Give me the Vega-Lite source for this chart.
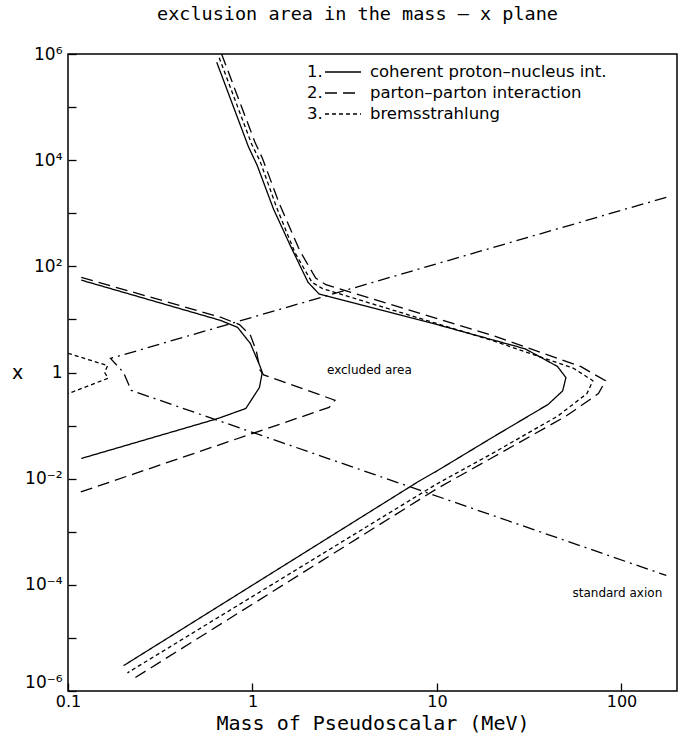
{
  "$schema": "https://vega.github.io/schema/vega-lite/v6.json",
  "width": 609,
  "height": 637,
  "autosize": {"type": "none"},
  "padding": {"left": 68, "top": 54, "right": 12, "bottom": 45},
  "background": "white",
  "title": {
    "text": "exclusion area in the mass – x plane",
    "font": "DejaVu Sans Mono",
    "fontSize": 18.5,
    "fontWeight": "normal",
    "color": "black",
    "offset": 22,
    "dx": -15
  },
  "config": {
    "view": {"stroke": "black", "strokeWidth": 1.5},
    "font": "DejaVu Sans"
  },
  "datasets": {
    "curves": [
      {"curve": "1", "seg": "1a", "o": 1, "m": 0.64, "v": 700000},
      {"curve": "1", "seg": "1a", "o": 2, "m": 0.95, "v": 18000},
      {"curve": "1", "seg": "1a", "o": 3, "m": 1.06, "v": 8000},
      {"curve": "1", "seg": "1a", "o": 4, "m": 1.3, "v": 1200},
      {"curve": "1", "seg": "1a", "o": 5, "m": 1.6, "v": 250},
      {"curve": "1", "seg": "1a", "o": 6, "m": 2.0, "v": 50},
      {"curve": "1", "seg": "1a", "o": 7, "m": 2.3, "v": 30},
      {"curve": "1", "seg": "1a", "o": 8, "m": 10, "v": 8},
      {"curve": "1", "seg": "1a", "o": 9, "m": 30, "v": 2.8},
      {"curve": "1", "seg": "1a", "o": 10, "m": 45, "v": 1.3},
      {"curve": "1", "seg": "1a", "o": 11, "m": 50, "v": 0.8},
      {"curve": "1", "seg": "1a", "o": 12, "m": 48, "v": 0.45},
      {"curve": "1", "seg": "1a", "o": 13, "m": 40, "v": 0.25},
      {"curve": "1", "seg": "1a", "o": 14, "m": 20, "v": 0.06},
      {"curve": "1", "seg": "1a", "o": 15, "m": 10, "v": 0.014},
      {"curve": "1", "seg": "1a", "o": 16, "m": 8, "v": 0.009},
      {"curve": "1", "seg": "1a", "o": 17, "m": 0.2, "v": 0.000003},

      {"curve": "1", "seg": "1b", "o": 1, "m": 0.118, "v": 55},
      {"curve": "1", "seg": "1b", "o": 2, "m": 0.67, "v": 9.6},
      {"curve": "1", "seg": "1b", "o": 3, "m": 0.83, "v": 7.1},
      {"curve": "1", "seg": "1b", "o": 4, "m": 0.975, "v": 3.5},
      {"curve": "1", "seg": "1b", "o": 5, "m": 1.1, "v": 1.3},
      {"curve": "1", "seg": "1b", "o": 6, "m": 1.13, "v": 1.0},
      {"curve": "1", "seg": "1b", "o": 7, "m": 1.09, "v": 0.52},
      {"curve": "1", "seg": "1b", "o": 8, "m": 0.92, "v": 0.21},
      {"curve": "1", "seg": "1b", "o": 9, "m": 0.65, "v": 0.136},
      {"curve": "1", "seg": "1b", "o": 10, "m": 0.118, "v": 0.024},

      {"curve": "2", "seg": "2a", "o": 1, "m": 0.68, "v": 1000000},
      {"curve": "2", "seg": "2a", "o": 2, "m": 1.03, "v": 22000},
      {"curve": "2", "seg": "2a", "o": 3, "m": 1.13, "v": 11000},
      {"curve": "2", "seg": "2a", "o": 4, "m": 1.4, "v": 1500},
      {"curve": "2", "seg": "2a", "o": 5, "m": 1.8, "v": 200},
      {"curve": "2", "seg": "2a", "o": 6, "m": 2.2, "v": 60},
      {"curve": "2", "seg": "2a", "o": 7, "m": 2.5, "v": 45},
      {"curve": "2", "seg": "2a", "o": 8, "m": 20, "v": 5},
      {"curve": "2", "seg": "2a", "o": 9, "m": 60, "v": 1.3},
      {"curve": "2", "seg": "2a", "o": 10, "m": 82, "v": 0.7},
      {"curve": "2", "seg": "2a", "o": 11, "m": 75, "v": 0.4},
      {"curve": "2", "seg": "2a", "o": 12, "m": 50, "v": 0.15},
      {"curve": "2", "seg": "2a", "o": 13, "m": 20, "v": 0.025},
      {"curve": "2", "seg": "2a", "o": 14, "m": 10, "v": 0.0065},
      {"curve": "2", "seg": "2a", "o": 15, "m": 0.22, "v": 0.0000016},

      {"curve": "2", "seg": "2b", "o": 1, "m": 0.118, "v": 62},
      {"curve": "2", "seg": "2b", "o": 2, "m": 0.67, "v": 11},
      {"curve": "2", "seg": "2b", "o": 3, "m": 0.85, "v": 8},
      {"curve": "2", "seg": "2b", "o": 4, "m": 0.975, "v": 5},
      {"curve": "2", "seg": "2b", "o": 5, "m": 1.05, "v": 2.5},
      {"curve": "2", "seg": "2b", "o": 6, "m": 1.1, "v": 1.1},
      {"curve": "2", "seg": "2b", "o": 7, "m": 1.15, "v": 0.9},
      {"curve": "2", "seg": "2b", "o": 8, "m": 1.6, "v": 0.6},
      {"curve": "2", "seg": "2b", "o": 9, "m": 2.8, "v": 0.3},
      {"curve": "2", "seg": "2b", "o": 10, "m": 2.6, "v": 0.22},
      {"curve": "2", "seg": "2b", "o": 11, "m": 0.11, "v": 0.0052},

      {"curve": "3", "seg": "3a", "o": 1, "m": 0.66, "v": 850000},
      {"curve": "3", "seg": "3a", "o": 2, "m": 0.99, "v": 20000},
      {"curve": "3", "seg": "3a", "o": 3, "m": 1.1, "v": 9500},
      {"curve": "3", "seg": "3a", "o": 4, "m": 1.35, "v": 1300},
      {"curve": "3", "seg": "3a", "o": 5, "m": 1.7, "v": 180},
      {"curve": "3", "seg": "3a", "o": 6, "m": 2.1, "v": 50},
      {"curve": "3", "seg": "3a", "o": 7, "m": 2.4, "v": 38},
      {"curve": "3", "seg": "3a", "o": 8, "m": 20, "v": 4},
      {"curve": "3", "seg": "3a", "o": 9, "m": 55, "v": 1.2},
      {"curve": "3", "seg": "3a", "o": 10, "m": 70, "v": 0.7},
      {"curve": "3", "seg": "3a", "o": 11, "m": 65, "v": 0.4},
      {"curve": "3", "seg": "3a", "o": 12, "m": 45, "v": 0.15},
      {"curve": "3", "seg": "3a", "o": 13, "m": 20, "v": 0.03},
      {"curve": "3", "seg": "3a", "o": 14, "m": 10, "v": 0.008},
      {"curve": "3", "seg": "3a", "o": 15, "m": 0.21, "v": 0.0000022},

      {"curve": "3", "seg": "3b", "o": 1, "m": 0.1, "v": 2.3},
      {"curve": "3", "seg": "3b", "o": 2, "m": 0.164, "v": 1.35},
      {"curve": "3", "seg": "3b", "o": 3, "m": 0.158, "v": 1.0},
      {"curve": "3", "seg": "3b", "o": 4, "m": 0.165, "v": 0.78},
      {"curve": "3", "seg": "3b", "o": 5, "m": 0.1, "v": 0.4},

      {"curve": "4", "seg": "4a", "o": 1, "m": 175, "v": 2000},
      {"curve": "4", "seg": "4a", "o": 2, "m": 0.17, "v": 1.84},
      {"curve": "4", "seg": "4a", "o": 3, "m": 0.2, "v": 1.0},
      {"curve": "4", "seg": "4a", "o": 4, "m": 0.22, "v": 0.46},
      {"curve": "4", "seg": "4a", "o": 5, "m": 175, "v": 0.00015}
    ],
    "labels": [
      {"text": "excluded area", "m": 4.3, "v": 1.1},
      {"text": "standard axion", "m": 95, "v": 0.00007}
    ]
  },
  "layer": [
    {
      "data": {"name": "curves"},
      "mark": {"type": "line", "color": "black", "strokeWidth": 1.3, "clip": true},
      "encoding": {
        "x": {
          "field": "m", "type": "quantitative",
          "scale": {"type": "log", "domain": [0.1, 200], "nice": false},
          "axis": {
            "values": [0.1, 1, 10, 100],
            "labelExpr": "datum.value < 0.5 ? '0.1' : format(datum.value, 'd')",
            "title": "Mass of Pseudoscalar (MeV)",
            "titleFont": "DejaVu Sans Mono", "titleFontSize": 20, "titleFontWeight": "normal",
            "titleColor": "black", "titlePadding": 4,
            "labelFont": "DejaVu Sans", "labelFontSize": 16, "labelColor": "black",
            "labelPadding": 10, "tickSize": -8, "tickColor": "black", "tickWidth": 1.3,
            "domain": false, "grid": false, "labelFlush": false
          }
        },
        "y": {
          "field": "v", "type": "quantitative",
          "scale": {"type": "log", "domain": [0.000001, 1000000], "nice": false},
          "axis": {
            "values": [0.000001, 0.00001, 0.0001, 0.001, 0.01, 0.1, 1, 10, 100, 1000, 10000, 100000, 1000000],
            "labelExpr": "round(log(datum.value)/LN10) == 6 ? '10⁶' : round(log(datum.value)/LN10) == 4 ? '10⁴' : round(log(datum.value)/LN10) == 2 ? '10²' : round(log(datum.value)/LN10) == 0 ? '1' : round(log(datum.value)/LN10) == -2 ? '10⁻²' : round(log(datum.value)/LN10) == -4 ? '10⁻⁴' : round(log(datum.value)/LN10) == -6 ? '10⁻⁶' : ''",
            "labelBaseline": {"condition": {"test": "datum.value < 0.000002", "value": "bottom"}, "value": "middle"},
            "title": "x", "titleAngle": 0, "titleX": -51, "titleY": 318,
            "titleAlign": "center", "titleBaseline": "middle",
            "titleFont": "DejaVu Sans", "titleFontSize": 19, "titleFontWeight": "normal", "titleColor": "black",
            "labelFont": "DejaVu Sans", "labelFontSize": 17, "labelColor": "black",
            "labelPadding": 14, "tickSize": -8, "tickColor": "black", "tickWidth": 1.3,
            "domain": false, "grid": false, "labelFlush": false
          }
        },
        "detail": {"field": "seg"},
        "order": {"field": "o"},
        "strokeDash": {
          "field": "curve", "type": "nominal",
          "scale": {"domain": ["1", "2", "3", "4"], "range": [[1, 0], [12, 6], [4, 3], [12, 5, 2, 5]]},
          "legend": {
            "values": ["1", "2", "3"],
            "orient": "none", "legendX": 265, "legendY": 8,
            "title": null, "padding": 0, "rowPadding": 2,
            "symbolType": "M-2,0H2", "symbolSize": 324, "symbolStrokeWidth": 1.3,
            "symbolStrokeColor": "black", "symbolFillColor": "transparent", "symbolOffset": 0,
            "labelOffset": -46, "labelLimit": 0,
            "labelFont": "DejaVu Sans", "labelFontSize": 16.5, "labelColor": "black",
            "labelExpr": "datum.label == '1' ? '1.\u00a0\u00a0\u00a0\u00a0\u00a0\u00a0\u00a0\u00a0\u00a0coherent proton–nucleus int.' : datum.label == '2' ? '2.\u00a0\u00a0\u00a0\u00a0\u00a0\u00a0\u00a0\u00a0\u00a0parton–parton interaction' : '3.\u00a0\u00a0\u00a0\u00a0\u00a0\u00a0\u00a0\u00a0\u00a0bremsstrahlung'"
          }
        }
      }
    },
    {
      "data": {"name": "labels"},
      "mark": {"type": "text", "font": "DejaVu Sans", "fontSize": 12, "color": "black", "align": "center", "baseline": "middle"},
      "encoding": {
        "x": {"field": "m", "type": "quantitative"},
        "y": {"field": "v", "type": "quantitative"},
        "text": {"field": "text"}
      }
    }
  ]
}
